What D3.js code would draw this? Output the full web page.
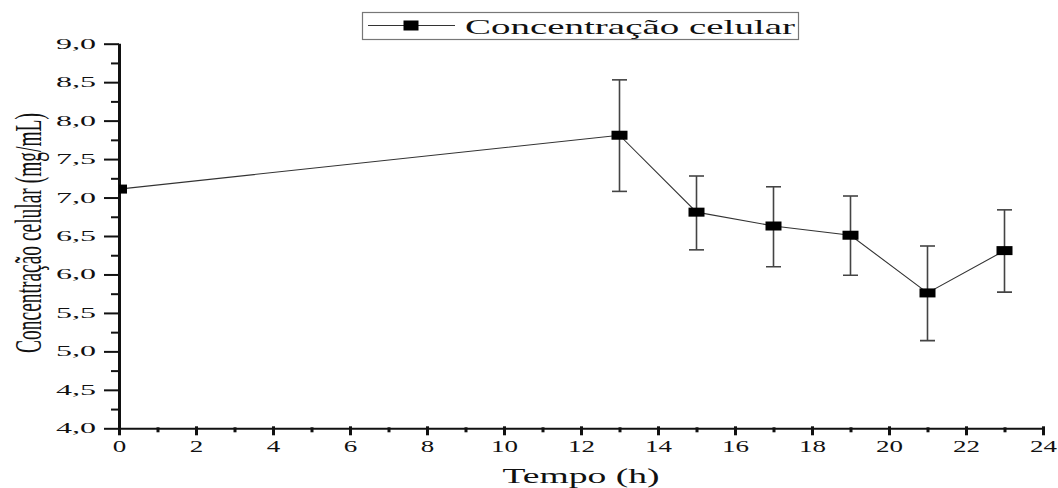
<!DOCTYPE html>
<html>
<head>
<meta charset="utf-8">
<script src="https://cdn.jsdelivr.net/npm/d3@7"></script>
<style>
  html, body { margin: 0; padding: 0; background: #fff; }
  svg { display: block; }
  svg text { font-family: "Liberation Serif", "DejaVu Serif", serif !important; fill: #111; }
</style>
</head>
<body>
<svg id="chart" width="1058" height="488"></svg>
<script>
// ---- data ----
const times = [0, 13, 15, 17, 19, 21, 23];
const concentration = [7.11, 7.81, 6.81, 6.63, 6.51, 5.76, 6.31];
const errUpper = [0, 0.72, 0.47, 0.51, 0.51, 0.61, 0.53];
const errLower = [0, 0.73, 0.49, 0.53, 0.52, 0.62, 0.54];
const xTicks = [0, 2, 4, 6, 8, 10, 12, 14, 16, 18, 20, 22, 24];
const xTickLabels = ["0", "2", "4", "6", "8", "10", "12", "14", "16", "18", "20", "22", "24"];
const yTicks = [4.0, 4.5, 5.0, 5.5, 6.0, 6.5, 7.0, 7.5, 8.0, 8.5, 9.0];
const yTickLabels = ["4,0", "4,5", "5,0", "5,5", "6,0", "6,5", "7,0", "7,5", "8,0", "8,5", "9,0"];
const seriesName = "Concentração celular";
const xTitle = "Tempo (h)";
const yTitle = "Concentração celular (mg/mL)";

const svg = d3.select("#chart");
const x = d3.scaleLinear().domain([0, 24]).range([119, 1043]);
const y = d3.scaleLinear().domain([4, 9]).range([428.3, 43.7]);

const data = times.map((t, i) => ({ t, v: concentration[i], up: errUpper[i], lo: errLower[i] }));

// clip to plot area
svg.append("defs").append("clipPath").attr("id", "plotClip")
  .append("rect").attr("x", x(0)).attr("y", 0).attr("width", x(24) - x(0) + 10).attr("height", y(4));

// ---- axes ----
const yMinor = d3.range(4.25, 9, 0.5);
const yAxisMinor = svg.append("g").attr("transform", `translate(${x(0)},0)`)
  .call(d3.axisLeft(y).tickValues(yMinor).tickSize(8).tickFormat(""));
yAxisMinor.select(".domain").remove();
yAxisMinor.selectAll("line").attr("stroke", "#111").attr("stroke-width", 2);

const yAxis = svg.append("g").attr("transform", `translate(${x(0)},0)`)
  .call(d3.axisLeft(y).tickValues(yTicks).tickSize(15).tickPadding(8)
    .tickFormat((d, i) => yTickLabels[i]));
yAxis.attr("font-family", null);
yAxis.select(".domain").attr("stroke", "#111").attr("stroke-width", 3)
  .attr("d", `M0.5,${y(9)}V${y(4)}`);
yAxis.selectAll(".tick line").attr("stroke", "#111").attr("stroke-width", 2);
yAxis.selectAll("text").attr("font-size", 14)
  .attr("fill", "#111").attr("textLength", 40).attr("lengthAdjust", "spacingAndGlyphs");

const xMinor = d3.range(1, 24, 2);
const xAxisMinor = svg.append("g").attr("transform", `translate(0,${y(4)})`)
  .call(d3.axisBottom(x).tickValues(xMinor).tickSize(4).tickFormat(""));
xAxisMinor.select(".domain").remove();
xAxisMinor.selectAll("line").attr("stroke", "#111").attr("stroke-width", 3).attr("y1", -1);

const xAxis = svg.append("g").attr("transform", `translate(0,${y(4)})`)
  .call(d3.axisBottom(x).tickValues(xTicks).tickSize(7).tickPadding(5)
    .tickFormat((d, i) => xTickLabels[i]));
xAxis.attr("font-family", null);
xAxis.select(".domain").attr("stroke", "#111").attr("stroke-width", 2)
  .attr("d", `M${x(0)},0.5H${x(24)}`);
xAxis.selectAll(".tick line").attr("stroke", "#111").attr("stroke-width", 3).attr("y1", -2);
xAxis.selectAll("text").attr("font-size", 16)
  .attr("fill", "#111")
  .attr("textLength", (d, i) => xTickLabels[i].length * 13.5)
  .attr("lengthAdjust", "spacingAndGlyphs");

// ---- titles ----
svg.append("text")
  .attr("x", x(12)).attr("y", 483)
  .attr("text-anchor", "middle")
  .attr("font-size", 21)
  .attr("textLength", 157).attr("lengthAdjust", "spacingAndGlyphs")
  .text(xTitle);

const yt = svg.append("text")
  .attr("text-anchor", "middle")
  .attr("font-size", 37)
  .text(yTitle);
const natLen = yt.node().getComputedTextLength() || 400;
const k = 240 / natLen;
yt.attr("transform", `translate(41,233) rotate(-90) scale(${k},1)`);

// ---- series ----
const plot = svg.append("g").attr("clip-path", "url(#plotClip)");

const line = d3.line().x(d => x(d.t)).y(d => y(d.v));
plot.append("path").datum(data)
  .attr("fill", "none").attr("stroke", "#333").attr("stroke-width", 1.1)
  .attr("d", line);

const capW = 7.5;
const eb = plot.selectAll(".eb").data(data.filter(d => d.up > 0 || d.lo > 0)).enter()
  .append("g").attr("class", "eb").attr("stroke", "#444").attr("stroke-width", 1.6);
eb.append("line").attr("x1", d => x(d.t)).attr("x2", d => x(d.t))
  .attr("y1", d => y(d.v + d.up)).attr("y2", d => y(d.v - d.lo));
eb.append("line").attr("x1", d => x(d.t) - capW).attr("x2", d => x(d.t) + capW)
  .attr("y1", d => y(d.v + d.up)).attr("y2", d => y(d.v + d.up));
eb.append("line").attr("x1", d => x(d.t) - capW).attr("x2", d => x(d.t) + capW)
  .attr("y1", d => y(d.v - d.lo)).attr("y2", d => y(d.v - d.lo));

const mW = 16, mH = 9;
plot.selectAll(".mk").data(data).enter().append("rect")
  .attr("class", "mk")
  .attr("x", d => x(d.t) - mW / 2).attr("y", d => y(d.v) - mH / 2)
  .attr("width", mW).attr("height", mH).attr("fill", "#000");

// ---- legend ----
const lg = svg.append("g");
lg.append("rect").attr("x", 362.5).attr("y", 12.5).attr("width", 436).attr("height", 27)
  .attr("fill", "#fff").attr("stroke", "#777").attr("stroke-width", 1.2);
lg.append("line").attr("x1", 368).attr("x2", 455).attr("y1", 25.5).attr("y2", 25.5)
  .attr("stroke", "#333").attr("stroke-width", 1.1);
lg.append("rect").attr("x", 411 - 7.5).attr("y", 25.5 - 5).attr("width", 15).attr("height", 10)
  .attr("fill", "#000");
lg.append("text").attr("x", 465).attr("y", 33.5)
  .attr("font-size", 21)
  .attr("textLength", 330).attr("lengthAdjust", "spacingAndGlyphs")
  .text(seriesName);
</script>
</body>
</html>
